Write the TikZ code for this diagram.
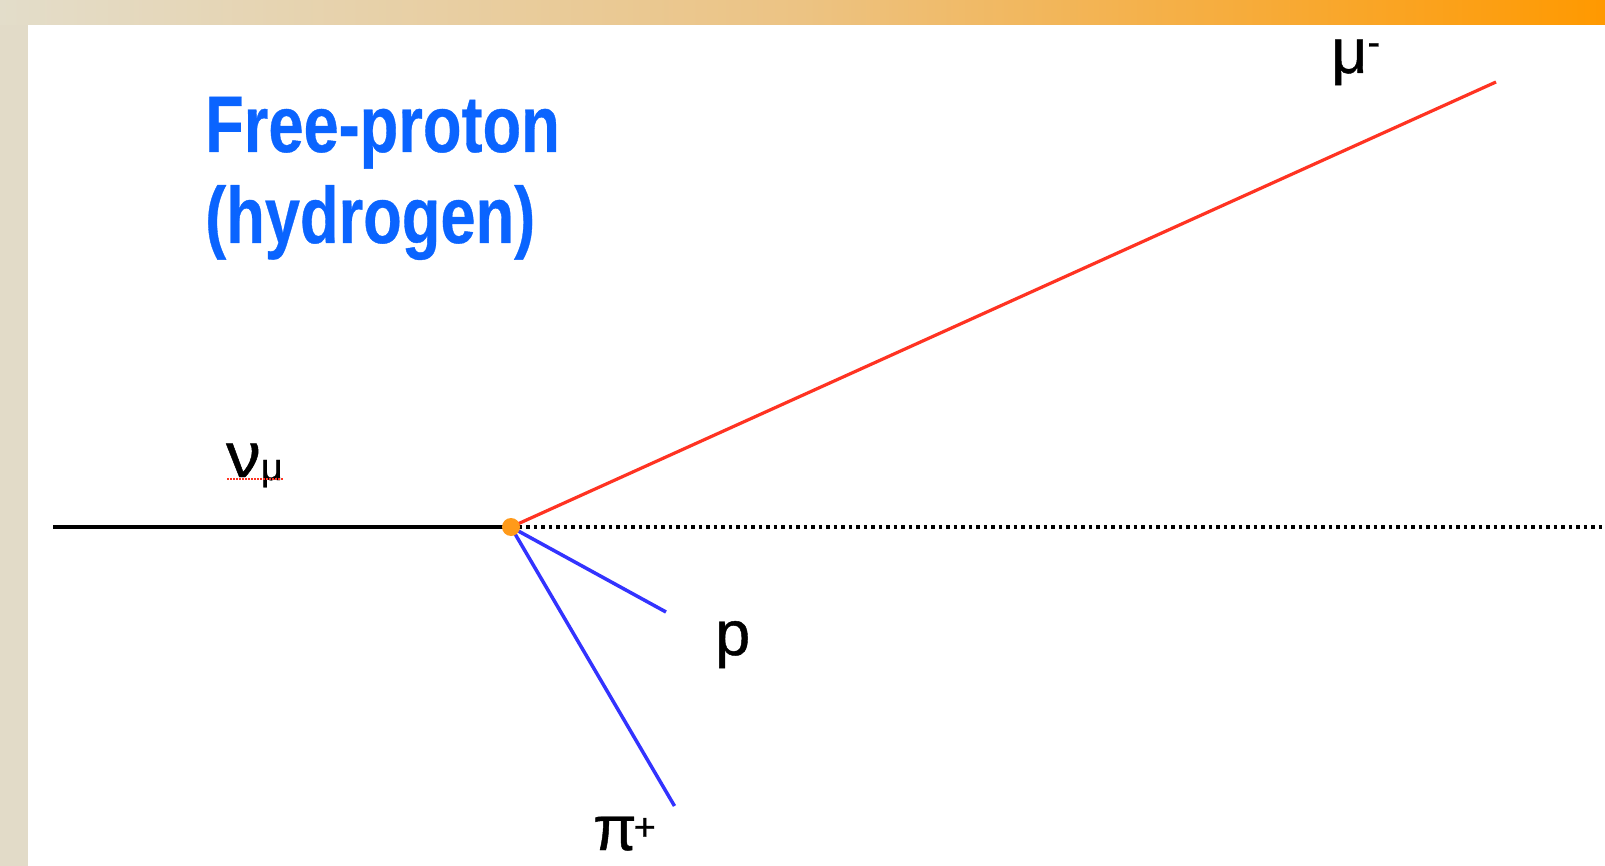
\documentclass[tikz,border=0pt]{standalone}
\usepackage{fontspec}
\setmainfont{Liberation Sans}
\newfontfamily\lblfont[FakeBold=0.7]{Liberation Sans}
\newfontfamily\ttlfont[FakeBold=0.5]{Liberation Sans Bold}
\usepackage{graphicx}
\definecolor{bandL}{HTML}{E3DDCA}
\definecolor{bandM}{HTML}{ECC383}
\definecolor{bandR}{HTML}{FF9900}
\definecolor{sideband}{HTML}{E2DBC8}
\definecolor{titleblue}{HTML}{0A64FF}
\definecolor{trackred}{HTML}{FF3322}
\definecolor{trackblue}{HTML}{3333FF}
\definecolor{vtxorange}{HTML}{FF9A1A}
\tikzset{
  track/.style={line width=3.5pt},
  lbl/.style={inner sep=0pt, anchor=base west, font=\lblfont\fontsize{63}{63}\selectfont},
  ttl/.style={inner sep=0pt, anchor=base west, text=titleblue, font=\ttlfont\fontsize{80}{91}\selectfont},
}
\begin{document}
\begin{tikzpicture}[x=1pt,y=-1pt]
\useasboundingbox (0,0) rectangle (1605,866);
\fill[white] (0,0) rectangle (1605,866);
\shade[left color=bandL, right color=bandR, middle color=bandM] (0,0) rectangle (1605,25);
\fill[sideband] (0,25) rectangle (27.5,866);

% title
\node[ttl] (title1) at (205,152) {\scalebox{0.79}[1]{Free-proton}};
\node[ttl] (title2) at (205,243) {\scalebox{0.79}[1]{(hydrogen)}};

% vertex and track ends
\coordinate (vtx) at (511,527);
\coordinate (nuStart) at (53,527);
\coordinate (beamEnd) at (1605,527);
\coordinate (muEnd) at (1496,82);
\coordinate (pEnd) at (666,612);
\coordinate (piEnd) at (674.5,806);

\draw[track, black, line width=3.2pt] (nuStart) -- (vtx);
\draw[black, line width=3.5pt, dash pattern=on 3.5pt off 4pt] (vtx) -- (beamEnd);
\draw[track, trackred, line width=3.2pt] (vtx) -- (muEnd);
\draw[track, trackblue] (vtx) -- (pEnd);
\draw[track, trackblue] (vtx) -- (piEnd);
\node[circle, fill=vtxorange, inner sep=0pt, minimum size=18pt] (v) at (vtx) {};

% labels
\node[lbl] (nu) at (226,477) {\scalebox{1.1}[1]{ν}\raisebox{-3pt}{\fontsize{38}{38}\selectfont μ}};
\draw[trackred, line width=1.3pt, dash pattern=on 1.5pt off 1.5pt] ([xshift=1pt,yshift=-2pt]nu.base west) -- ([yshift=-2pt]nu.base east);
\node[lbl] (mu) at (1331,73) {μ\raisebox{18pt}{\fontsize{38}{38}\selectfont -}};
\node[lbl] (p) at (715,655) {p};
\node[lbl] (pi) at (593,850) {π\kern-3pt\raisebox{10pt}{\fontsize{38}{38}\selectfont +}};
\end{tikzpicture}
\end{document}
